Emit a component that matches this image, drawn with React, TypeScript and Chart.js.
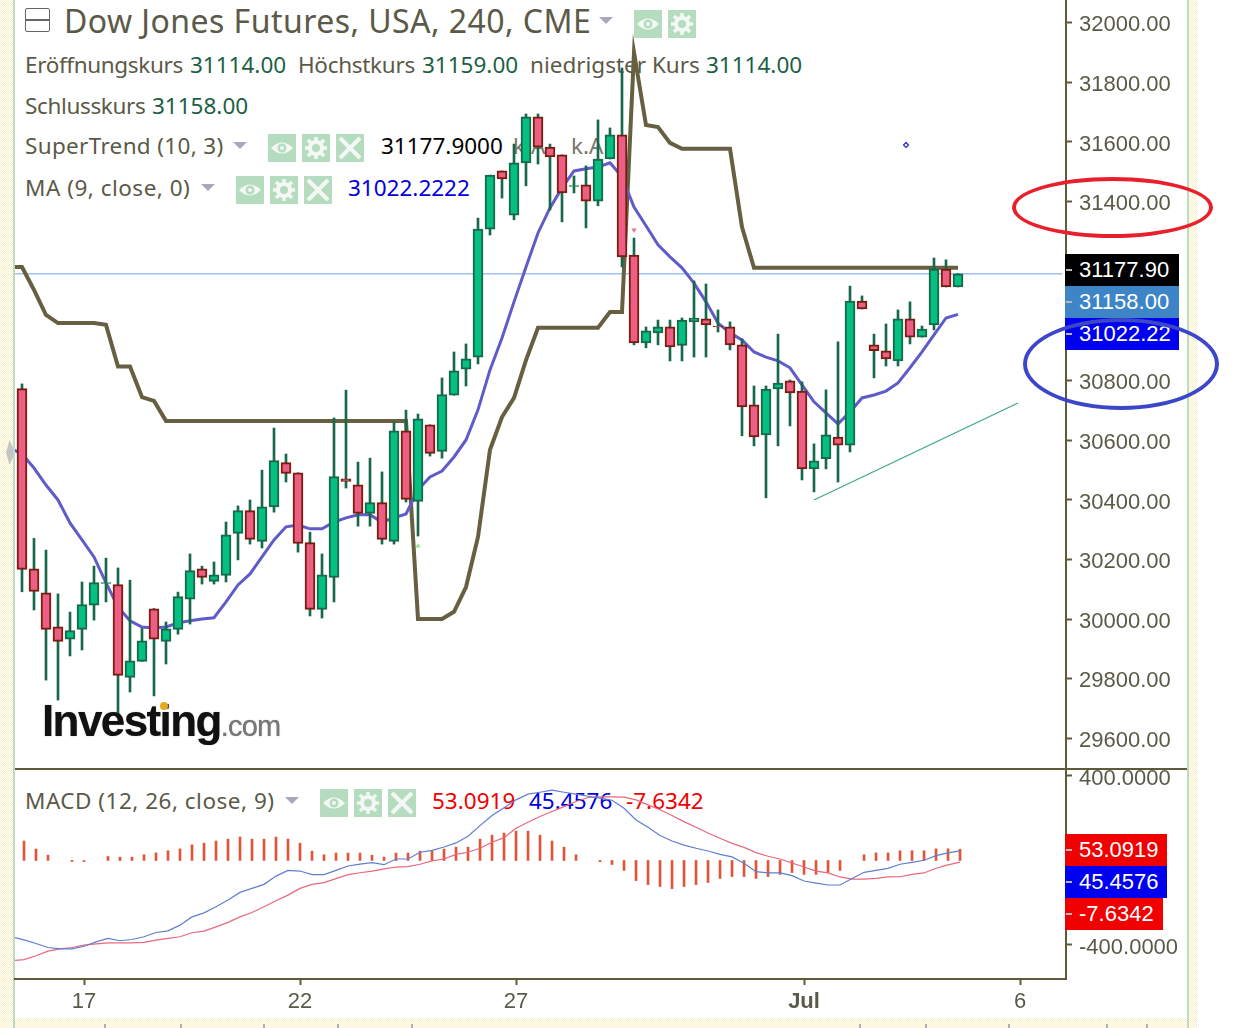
import React, { useEffect, useRef } from "react";
import { Chart, registerables } from "chart.js";

Chart.register(...registerables);

// candles, oldest first
const opens = [30773, 30169, 30089, 29975, 29933, 29966, 30047, 30120, 30116, 29805, 29859, 30035, 29926, 29966, 30067, 30169, 30127, 30147, 30288, 30364, 30261, 30377, 30525, 30491, 30257, 30033, 30140, 30471, 30451, 30355, 30391, 30261, 30632, 30395, 30652, 30563, 30751, 30838, 30879, 31308, 31503, 31355, 31530, 31684, 31583, 31557, 31451, 31456, 31402, 31543, 31624, 31221, 30926, 30960, 30980, 30918, 30997, 31007, 30983, 30980, 30920, 30719, 30618, 30772, 30799, 30765, 30504, 30538, 30611, 30584, 31067, 30920, 30900, 30866, 31007, 30946, 30987, 31174, 31114];
const highs = [30789, 30271, 30232, 30085, 30024, 30125, 30178, 30205, 30172, 30131, 29969, 30036, 29991, 30091, 30219, 30178, 30192, 30326, 30380, 30400, 30500, 30641, 30554, 30491, 30292, 30219, 30675, 30768, 30527, 30540, 30494, 30661, 30701, 30688, 30652, 30809, 30896, 30923, 31345, 31489, 31503, 31593, 31694, 31694, 31593, 31557, 31486, 31520, 31674, 31647, 31848, 31278, 30980, 31003, 31003, 31010, 31134, 31124, 31037, 30997, 30940, 30782, 30782, 30956, 30802, 30796, 30588, 30769, 30930, 31117, 31084, 30956, 30990, 31037, 31064, 30983, 31211, 31205, 31159];
const lows = [30092, 30031, 29796, 29729, 29877, 29897, 29997, 30058, 29673, 29756, 29859, 29743, 29850, 29950, 29984, 30118, 30118, 30125, 30199, 30252, 30239, 30359, 30460, 30225, 30011, 30004, 30058, 30440, 30312, 30312, 30252, 30252, 30393, 30279, 30547, 30540, 30751, 30782, 30856, 31288, 31412, 31339, 31453, 31526, 31372, 31332, 31429, 31312, 31386, 31543, 31181, 30920, 30910, 30920, 30866, 30866, 30879, 30879, 30963, 30903, 30615, 30581, 30407, 30581, 30648, 30467, 30427, 30504, 30460, 30561, 31040, 30809, 30849, 30849, 30923, 30946, 30970, 31114, 31114];
const closes = [30167, 30093, 29966, 29926, 29962, 30049, 30123, 30123, 29812, 29861, 29928, 29933, 29968, 30076, 30163, 30140, 30149, 30283, 30364, 30268, 30377, 30532, 30489, 30254, 30033, 30149, 30478, 30462, 30355, 30391, 30268, 30632, 30402, 30672, 30556, 30753, 30833, 30873, 31308, 31489, 31476, 31530, 31684, 31583, 31550, 31429, 31454, 31402, 31543, 31624, 31215, 30926, 30967, 30980, 30913, 31003, 31010, 30987, 30980, 30920, 30712, 30611, 30772, 30792, 30759, 30504, 30531, 30618, 30584, 31067, 31040, 30900, 30873, 31007, 30946, 30973, 31174, 31114, 31158];

// starts one bar before the first candle so the lines reach the left edge
const superTrend = [31181, 31181, 31104, 31020, 30993, 30993, 30993, 30993, 30987, 30847, 30847, 30745, 30732, 30665, 30665, 30665, 30665, 30665, 30665, 30665, 30665, 30665, 30665, 30665, 30665, 30665, 30665, 30665, 30665, 30665, 30665, 30665, 30665, 30665, 30001, 30001, 30001, 30025, 30108, 30276, 30568, 30678, 30742, 30869, 30977, 30977, 30977, 30977, 30977, 30977, 31030, 31030, 31900, 31657, 31650, 31597, 31577, 31577, 31577, 31577, 31577, 31315, 31178, 31178, 31178, 31178, 31178, 31178, 31178, 31178, 31178, 31178, 31178, 31178, 31178, 31178, 31178, 31178, 31178, 31178];
const movingAvg = [30574, 30554, 30507, 30450, 30400, 30323, 30266, 30209, 30122, 30041, 29995, 29974, 29971, 29974, 29988, 29995, 30001, 30005, 30058, 30115, 30152, 30209, 30266, 30310, 30316, 30303, 30303, 30326, 30340, 30350, 30350, 30326, 30340, 30353, 30434, 30477, 30497, 30544, 30601, 30702, 30836, 30943, 31064, 31181, 31295, 31379, 31446, 31503, 31510, 31516, 31530, 31483, 31382, 31319, 31255, 31215, 31178, 31127, 31064, 30993, 30960, 30936, 30896, 30879, 30866, 30843, 30786, 30729, 30692, 30655, 30695, 30742, 30752, 30765, 30792, 30843, 30896, 30953, 31010, 31022.2222];

const macdLine = [-361, -376, -393, -412, -418, -418, -406, -385, -369, -380, -374, -361, -341, -333, -306, -267, -248, -219, -187, -151, -132, -113, -74, -47, -50, -67, -67, -47, -26, -17, -10, -20, 7, 7, 39, 48, 64, 83, 115, 165, 213, 250, 287, 314, 323, 333, 323, 314, 304, 295, 285, 247, 192, 157, 118, 92, 73, 58, 45, 29, 17, -13, -53, -59, -59, -72, -97, -107, -116, -116, -85, -56, -47, -37, -18, -9, 1, 23, 36, 45.4576];
const signalLine = [-474, -469, -451, -429, -418, -412, -401, -395, -390, -390, -390, -388, -377, -369, -361, -342, -334, -314, -293, -267, -246, -219, -191, -164, -132, -113, -105, -86, -67, -58, -50, -40, -31, -29, -18, -2, 7, 29, 39, 58, 86, 108, 153, 181, 208, 232, 255, 279, 298, 301, 301, 300, 287, 263, 240, 213, 184, 157, 130, 105, 81, 62, 37, 20, 7, -12, -31, -50, -59, -78, -88, -88, -85, -78, -77, -66, -59, -37, -21, -7.6342];
// null where the picture shows no bar at all
const histogram = [92, 54, 25, null, -5, -5, null, 19, 16, 16, 27, 36, 46, 55, 74, 82, 92, 101, 111, 101, 101, 111, 101, 82, 44, 27, 35, 35, 35, 25, 16, 35, 35, 44, 44, 54, 63, 63, 101, 120, 130, 139, 139, 120, 92, 63, 27, null, -6, -19, -47, -95, -114, -123, -133, -123, -114, -104, -85, -76, -76, -85, -76, -66, -57, -66, -66, -57, -47, null, 27, 36, 36, 46, 46, 46, 55, 55, 53.0919];

const trendBars = [66, 83];
const trendPrices = [30400, 30725];
const lastClose = 31158;
const priceTicks = [29600, 29800, 30000, 30200, 30400, 30600, 30800, 31400, 31600, 31800, 32000];
const macdTicks = [-400, 400];
const dateTicks = [5, 23, 41, 65, 83];
const dateLabels = ["17", "22", "27", "Jul", "6"];

const stripMarks = [104, 180, 263, 337, 411, 859, 925, 1008, 1106, 1146];

const UI = '"Noto Sans", sans-serif';
const AXIS = '"Liberation Sans", Arial, sans-serif';
const INK = "#5b5a48";
const VALUE = "#1d5f45";
const LINE = "#5f5a3a";

const Label = ({ x, y, size = 22.5, color = INK, children, spacing = 0 }: any) => (
  <span style={{ position: "absolute", left: x, top: y, fontFamily: UI, fontSize: size, lineHeight: size > 25 ? "42px" : "30px", color, whiteSpace: "nowrap", letterSpacing: spacing }}>
    {children}
  </span>
);

const Caret = ({ x, y }: any) => (
  <div style={{ position: "absolute", left: x, top: y, width: 0, height: 0, borderLeft: "7px solid transparent", borderRight: "7px solid transparent", borderTop: "7px solid #a8a8b8" }} />
);

const Btn = ({ x, y, kind }: any) => (
  <svg style={{ position: "absolute", left: x, top: y }} width="28" height="28" viewBox="0 0 28 28">
    <rect width="28" height="28" fill="#b6dcbf" />
    {kind === "eye" && (
      <g>
        <path d="M3 14 Q14 3 25 14 Q14 25 3 14Z" fill="#f4f8f4" />
        <circle cx="14" cy="14" r="4.5" fill="#b6dcbf" />
        <circle cx="14" cy="14" r="2" fill="#f4f8f4" />
      </g>
    )}
    {kind === "gear" && (
      <g fill="none" stroke="#f4f8f4">
        <circle cx="14" cy="14" r="6" strokeWidth="4" />
        <path d="M14 3V8M14 20V25M3 14H8M20 14H25M6 6L10 10M18 18L22 22M22 6L18 10M10 18L6 22" strokeWidth="3.5" />
      </g>
    )}
    {kind === "x" && <path d="M4 4L24 24M24 4L4 24" stroke="#f4f8f4" strokeWidth="4" />}
  </svg>
);

const Tag = ({ y, w, bg, children }: any) => (
  <div style={{ position: "absolute", left: 1065, top: y, width: w, height: 32, background: bg }}>
    <div style={{ position: "absolute", left: 1, top: 15, width: 6, height: 2, background: "#b8b8b8" }} />
    <span style={{ position: "absolute", left: 14, top: 0, fontFamily: AXIS, fontSize: 22, lineHeight: "32px", color: "#fff" }}>{children}</span>
  </div>
);

const dither = "repeating-conic-gradient(#faf0c4 0% 25%, #ffffff 0% 50%) 0 0 / 2px 2px";

const App = () => {
  const chartRef = useRef<HTMLCanvasElement>(null);

  useEffect(() => {
    if (!chartRef.current) return;
    const barIndex = (values: (number | null)[], shift = 0) => values.map((y, i) => ({ x: i + shift, y }));
    const axisFont = { family: AXIS, size: 22 };
    // labels sit a little below their tick: an empty first line with a small line height pushes them down
    const loweredFont = { ...axisFont, lineHeight: "5px" };
    // the panels have to run flush to the canvas top, so drop the label overhang
    const fitRightAxis = (scale: any) => {
      scale.width = 121;
      scale.paddingTop = 0;
      scale.paddingBottom = 0;
    };

    const chart = new Chart(chartRef.current, {
      type: "bar",
      data: {
        datasets: [
          {
            label: "Body",
            data: opens.map((o, i) => ({ x: i, y: [o, closes[i]] })),
            xAxisID: "xPrice",
            yAxisID: "yPrice",
            grouped: false,
            barThickness: 10,
            borderSkipped: false,
            borderWidth: 2,
            backgroundColor: opens.map((o, i) => (closes[i] >= o ? "#05c080" : "#ec5f82")),
            borderColor: opens.map((o, i) => (closes[i] >= o ? "#17694a" : "#7a1c10")),
            order: 0,
          },
          {
            label: "Wick",
            data: lows.map((l, i) => ({ x: i, y: [l, highs[i]] })),
            xAxisID: "xPrice",
            yAxisID: "yPrice",
            grouped: false,
            barThickness: 2,
            backgroundColor: "#17694a",
            order: 1,
          },
          {
            type: "line",
            label: "MA",
            data: barIndex(movingAvg, -1),
            xAxisID: "xPrice",
            yAxisID: "yPrice",
            borderColor: "#5f5bc8",
            borderWidth: 3,
            pointRadius: 0,
            order: 2,
          },
          {
            type: "line",
            label: "SuperTrend",
            data: barIndex(superTrend, -1),
            xAxisID: "xPrice",
            yAxisID: "yPrice",
            borderColor: "#665f42",
            borderWidth: 4,
            pointRadius: 0,
            order: 3,
          },
          {
            type: "line",
            label: "Close",
            data: [{ x: -1, y: lastClose }, { x: 86.7, y: lastClose }],
            xAxisID: "xPrice",
            yAxisID: "yPrice",
            borderColor: "#9cc3ee",
            borderWidth: 1.5,
            pointRadius: 0,
            order: 4,
          },
          {
            type: "line",
            label: "Trend",
            data: trendBars.map((x, i) => ({ x, y: trendPrices[i] })),
            xAxisID: "xPrice",
            yAxisID: "yPrice",
            borderColor: "#3aa88a",
            borderWidth: 1.2,
            pointRadius: 0,
            order: 4,
          },
          {
            type: "line",
            label: "Marker",
            data: [{ x: 73.67, y: 31590 }],
            xAxisID: "xPrice",
            yAxisID: "yPrice",
            showLine: false,
            pointStyle: "rectRot",
            pointRadius: 2.5,
            pointBackgroundColor: "#fff",
            pointBorderColor: "#2a2ac8",
            pointBorderWidth: 1.2,
            order: 4,
          },
          {
            type: "line",
            label: "Sell",
            data: [{ x: 51, y: 31305 }],
            xAxisID: "xPrice",
            yAxisID: "yPrice",
            showLine: false,
            pointStyle: "triangle",
            rotation: 180,
            pointRadius: 3,
            pointBackgroundColor: "#f0708c",
            pointBorderWidth: 0,
            order: 4,
          },
          {
            type: "line",
            label: "Buy",
            data: [{ x: 33, y: 30246 }],
            xAxisID: "xPrice",
            yAxisID: "yPrice",
            showLine: false,
            pointStyle: "triangle",
            pointRadius: 3,
            pointBackgroundColor: "#8ee88e",
            pointBorderWidth: 0,
            order: 4,
          },
          {
            type: "line",
            label: "MACD",
            data: barIndex(macdLine, -1),
            xAxisID: "x",
            yAxisID: "yMacd",
            borderColor: "#5f7fd0",
            borderWidth: 1.2,
            pointRadius: 0,
            order: 0,
          },
          {
            type: "line",
            label: "Signal",
            data: barIndex(signalLine, -1),
            xAxisID: "x",
            yAxisID: "yMacd",
            borderColor: "#e8687c",
            borderWidth: 1.2,
            pointRadius: 0,
            order: 0,
          },
          {
            label: "Histogram",
            data: barIndex(histogram),
            xAxisID: "x",
            yAxisID: "yMacd",
            grouped: false,
            barThickness: 2,
            backgroundColor: "#e0553a",
            order: 1,
          },
        ] as any,
      },
      options: {
        responsive: false,
        animation: false,
        layout: { autoPadding: false, padding: { left: 15, right: 70, top: 0, bottom: 19 } },
        plugins: { legend: { display: false }, tooltip: { enabled: false } },
        scales: {
          xPrice: { type: "linear", axis: "x", display: false, offset: false, min: -0.583, max: 87 },
          x: {
            type: "linear",
            axis: "x",
            position: "bottom",
            offset: false,
            min: -0.75,
            max: 86.83,
            border: { color: LINE, width: 2 },
            grid: { offset: false, drawOnChartArea: false, color: LINE, tickLength: 6, tickWidth: 2 },
            afterBuildTicks: (scale: any) => {
              scale.ticks = dateTicks.map((value) => ({ value }));
            },
            afterFit: (scale: any) => {
              scale.height = 30;
              scale.paddingLeft = 0;
              scale.paddingRight = 0;
            },
            ticks: {
              autoSkip: false,
              maxRotation: 0,
              padding: 4,
              color: INK,
              font: (ctx: any) => ({ ...axisFont, weight: ctx.tick && ctx.tick.label === "Jul" ? "bold" : "normal" }),
              callback: (value: any) => dateLabels[dateTicks.indexOf(value)],
            },
          },
          yPrice: {
            type: "linear",
            axis: "y",
            position: "right",
            stack: "panels",
            stackWeight: 769,
            min: 29498,
            max: 32076,
            border: { color: LINE, width: 2 },
            grid: { drawOnChartArea: false, color: LINE, tickLength: 6, tickWidth: 2 },
            afterBuildTicks: (scale: any) => {
              scale.ticks = priceTicks.map((value) => ({ value }));
            },
            afterFit: fitRightAxis,
            ticks: { autoSkip: false, padding: 7, color: INK, font: loweredFont, callback: (value: any) => ["", Number(value).toFixed(2)] },
          },
          yMacd: {
            type: "linear",
            axis: "y",
            position: "right",
            stack: "panels",
            stackWeight: 210,
            min: -561,
            max: 433,
            border: { color: LINE, width: 2 },
            grid: { drawOnChartArea: false, color: LINE, tickLength: 6, tickWidth: 2 },
            afterBuildTicks: (scale: any) => {
              scale.ticks = macdTicks.map((value) => ({ value }));
            },
            afterFit: fitRightAxis,
            ticks: { autoSkip: false, padding: 7, color: INK, font: loweredFont, callback: (value: any) => ["", Number(value).toFixed(4)] },
          },
        },
      } as any,
    });

    return () => {
      chart.destroy();
    };
  }, []);

  return (
    <div style={{ position: "absolute", left: 0, top: 0, width: 1257, height: 1028, overflow: "hidden", background: "#fff" }}>
      {/* page frame */}
      <div style={{ position: "absolute", left: 0, top: 0, width: 13, height: 1028, background: dither }} />
      <div style={{ position: "absolute", left: 13, top: 0, width: 2, height: 1028, background: "#bcdcc0" }} />
      <div style={{ position: "absolute", left: 1187, top: 0, width: 2, height: 1028, background: "#bcdcc0" }} />
      <div style={{ position: "absolute", left: 1189, top: 0, width: 8, height: 1028, background: dither }} />
      <div style={{ position: "absolute", left: 15, top: 1018, width: 1172, height: 10, background: dither }} />
      {stripMarks.map((x) => (
        <div key={x} style={{ position: "absolute", left: x, top: 1024, width: 2, height: 4, background: "#b0b0b0" }} />
      ))}
      <div style={{ position: "absolute", left: 6, top: 440, width: 7, height: 25, background: "#c4c4c4", clipPath: "polygon(50% 0, 100% 30%, 100% 70%, 50% 100%, 0 50%)" }} />

      {/* legend, under the canvas so the candles cross it */}
      <div style={{ position: "absolute", left: 25, top: 8, width: 25, height: 24, boxSizing: "border-box", border: "1.5px solid #666", borderRadius: 2 }}>
        <div style={{ position: "absolute", left: 0, right: 0, top: 10, height: 1.5, background: "#666" }} />
      </div>
      <Label x={64} y={0} size={32} spacing={0.45}>Dow Jones Futures, USA, 240, CME</Label>
      <Caret x={599} y={17} />
      <Btn x={634} y={10} kind="eye" />
      <Btn x={668} y={10} kind="gear" />

      <Label x={25} y={50} spacing={-0.35}>Eröffnungskurs</Label>
      <Label x={190} y={50} color={VALUE}>31114.00</Label>
      <Label x={298} y={50} spacing={-0.3}>Höchstkurs</Label>
      <Label x={422} y={50} color={VALUE}>31159.00</Label>
      <Label x={530} y={50}>niedrigster Kurs</Label>
      <Label x={706} y={50} color={VALUE}>31114.00</Label>

      <Label x={25} y={91} spacing={-0.35}>Schlusskurs</Label>
      <Label x={152} y={91} color={VALUE}>31158.00</Label>

      <Label x={25} y={131} spacing={0.33}>SuperTrend (10, 3)</Label>
      <Caret x={233} y={142} />
      <Btn x={268} y={134} kind="eye" />
      <Btn x={302} y={134} kind="gear" />
      <Btn x={336} y={134} kind="x" />
      <Label x={381} y={131} color="#000">31177.9000</Label>
      <Label x={513} y={131} color="#77776a">k.A.</Label>
      <Label x={571} y={131} color="#77776a">k.A.</Label>

      <Label x={25} y={173} spacing={0.5}>MA (9, close, 0)</Label>
      <Caret x={201} y={184} />
      <Btn x={236} y={176} kind="eye" />
      <Btn x={270} y={176} kind="gear" />
      <Btn x={304} y={176} kind="x" />
      <Label x={348} y={173} color="#0000e0">31022.2222</Label>

      <Label x={25} y={786} spacing={0.5}>MACD (12, 26, close, 9)</Label>
      <Caret x={285} y={797} />
      <Btn x={320} y={789} kind="eye" />
      <Btn x={354} y={789} kind="gear" />
      <Btn x={388} y={789} kind="x" />
      <Label x={432} y={786} color="#f00000">53.0919</Label>
      <Label x={529} y={786} color="#0000e0">45.4576</Label>
      <Label x={626} y={786} color="#f00000">-7.6342</Label>

      <canvas ref={chartRef} width={1257} height={1028} style={{ position: "absolute", left: 0, top: 0, display: "block" }} />

      {/* panel divider and the last-value tags */}
      <div style={{ position: "absolute", left: 15, top: 768, width: 1172, height: 2, background: LINE }} />
      <Tag y={254} w={114} bg="#000">31177.90</Tag>
      <Tag y={286} w={114} bg="#3d85c6">31158.00</Tag>
      <Tag y={318} w={114} bg="#0000f0">31022.22</Tag>
      <Tag y={834} w={102} bg="#f00000">53.0919</Tag>
      <Tag y={866} w={102} bg="#0000f0">45.4576</Tag>
      <Tag y={898} w={98} bg="#f00000">-7.6342</Tag>

      {/* hand drawn rings */}
      <div style={{ position: "absolute", left: 1012, top: 177, width: 201, height: 61, boxSizing: "border-box", border: "4px solid #e8202c", borderRadius: "50%" }} />
      <div style={{ position: "absolute", left: 1023, top: 318, width: 196, height: 92, boxSizing: "border-box", border: "4px solid #3c46c8", borderRadius: "50%" }} />

      {/* logo */}
      <div style={{ position: "absolute", left: 42, top: 698, fontFamily: AXIS, lineHeight: "46px", whiteSpace: "nowrap", color: "#111", textShadow: "0 0 1px #777" }}>
        <span style={{ fontSize: 44, fontWeight: "bold", letterSpacing: -1.6 }}>Investing</span>
        <span style={{ fontSize: 29, color: "#777", letterSpacing: -0.8 }}>.com</span>
      </div>
      <div style={{ position: "absolute", left: 160, top: 702, width: 8, height: 8, borderRadius: "50%", background: "#e8a820" }} />
    </div>
  );
};

export default App;
